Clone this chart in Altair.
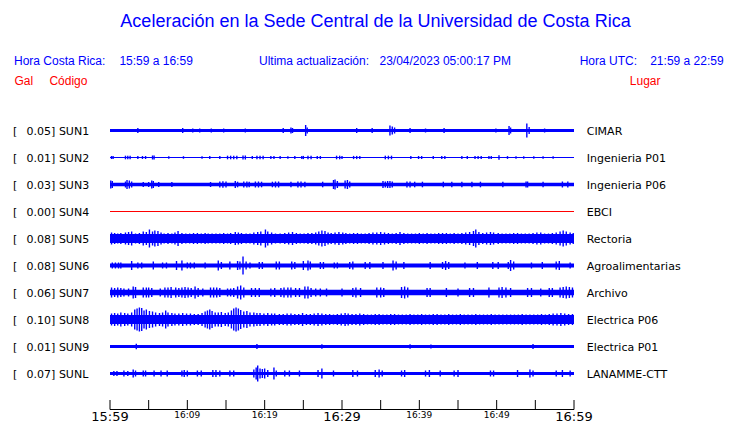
import altair as alt
import pandas as pd

# ---------------- data ----------------
TITLE = "Aceleración en la Sede Central de la Universidad de Costa Rica"
CODES = ["SUN1", "SUN2", "SUN3", "SUN4", "SUN5", "SUN6", "SUN7", "SUN8", "SUN9", "SUNL"]
GAL = ["0.05", "0.01", "0.03", "0.00", "0.08", "0.08", "0.06", "0.10", "0.01", "0.07"]
LUGARES = ["CIMAR", "Ingenieria P01", "Ingenieria P06", "EBCI", "Rectoria",
           "Agroalimentarias", "Archivo", "Electrica P06", "Electrica P01", "LANAMME-CTT"]
# half-width (px) of the continuous background band of each trace
BASE = [1.5, 0.5, 1.8, 0.5, 4.5, 2.0, 2.8, 4.5, 1.5, 1.5]
TRACE_COLORS = ["#0000ff", "#0000ff", "#0000ff", "#ff0000", "#0000ff",
                "#0000ff", "#0000ff", "#0000ff", "#0000ff", "#0000ff"]

# bursts: (minutes after 15:59, half amplitude in px)
SPIKES = {
    "SUN1": [(3.6, 2.5), (9.4, 2.5), (10.7, 2), (11.6, 2), (13.1, 2), (14.7, 2), (17.5, 2),
             (22.4, 2.5), (23.4, 3), (23.6, 2.5), (25.3, 5.5), (25.5, 3), (31.9, 2.5),
             (33.9, 2.5), (36.2, 5), (36.5, 4), (36.8, 3), (38.8, 2.5), (40.8, 2), (43.2, 2.5),
             (49.9, 2), (51.6, 4.5), (51.8, 3), (53.9, 7), (54.2, 3.5), (56.2, 2)],
    "SUN2": [(0.2, 1.5), (0.4, 1.5), (2.0, 1.8), (2.3, 1.8), (2.6, 1.8), (3.6, 1.5), (4.2, 1.5),
             (4.6, 1.5), (5.5, 2), (5.7, 2), (7.6, 1.3), (9.5, 1.3), (11.9, 1.3), (12.9, 1.5),
             (14.2, 1.5), (15.2, 1.8), (15.6, 1.8), (16.0, 1.8), (16.4, 1.8), (17.2, 2),
             (17.5, 2), (18.4, 1.5), (19.0, 1.8), (19.4, 1.8), (19.8, 1.8), (20.8, 1.5),
             (21.2, 1.5), (22.0, 1.5), (23.0, 1.3), (23.9, 1.5), (24.8, 1.6), (25.0, 1.6),
             (25.6, 1.8), (26.0, 1.8), (26.8, 1.5), (27.2, 1.5), (29.3, 1.8), (29.7, 1.8),
             (30.0, 1.5), (31.5, 1.6), (31.9, 1.6), (32.3, 1.6), (35.6, 1.8), (36.0, 1.8),
             (36.4, 1.8), (38.9, 1.5), (39.9, 1.5), (40.3, 1.5), (41.8, 1.4), (42.9, 1.5),
             (43.3, 1.5), (45.5, 1.4), (46.2, 1.4), (47.2, 1.5), (47.6, 1.5), (48.0, 1.5),
             (49.0, 1.5), (49.3, 1.5), (50.3, 2.2), (51.4, 1.4), (52.5, 1.3), (53.5, 1.3),
             (54.8, 1.3), (56.0, 1.2), (57.3, 1.2)],
    "SUN3": [(0.1, 4), (0.3, 3.5), (2.0, 3), (2.2, 4.5), (2.5, 4), (2.8, 3), (4.3, 2.5),
             (5.0, 2.5), (5.4, 4), (5.6, 3.5), (6.3, 2.5), (8.0, 2.5), (13.0, 2.5), (14.2, 3),
             (14.6, 3.2), (15.0, 3), (16.2, 3.5), (16.5, 2.8), (17.3, 3), (17.7, 3), (18.0, 2.8),
             (18.8, 3), (19.2, 3), (19.6, 2.8), (21.0, 2.8), (21.4, 3), (21.8, 3), (23.4, 2.8),
             (24.3, 3), (24.7, 3), (25.2, 2.8), (27.5, 2.8), (28.9, 4.5), (29.1, 5), (29.4, 3.5),
             (30.4, 4), (30.7, 4.5), (31.0, 3), (35.3, 3.5), (35.6, 3), (35.9, 3.5), (36.2, 3.5),
             (36.5, 3), (38.4, 3), (38.8, 3), (39.4, 2.8), (40.4, 2.8), (43.1, 2.8), (44.2, 2.8),
             (45.5, 2.8), (46.8, 2.8), (47.9, 2.8), (50.8, 2.8), (53.8, 3), (54.0, 3), (56.0, 2.8),
             (58.5, 3), (59.2, 3)],
    "SUN4": [],
    "SUN5": [(0.2, 6), (0.6, 5.5), (1.0, 5), (1.4, 5.5), (2.0, 6), (2.4, 6.5), (2.8, 7),
             (3.3, 5), (3.8, 5.5), (4.3, 7), (4.7, 6.5), (5.1, 9), (5.5, 7), (5.8, 8), (6.2, 7.5),
             (6.6, 6), (7.0, 5), (7.5, 5.5), (8.0, 5), (8.4, 6), (8.8, 7.5), (9.3, 5.5), (9.8, 5),
             (10.3, 5), (10.8, 5.5), (11.3, 5.5), (11.8, 5), (12.3, 5.5), (12.7, 5), (13.2, 5),
             (13.7, 5), (14.2, 5), (14.7, 5.5), (15.2, 5), (15.6, 5.5), (16.2, 6.5), (16.6, 6),
             (17.0, 5.5), (17.6, 5), (18.1, 5), (18.6, 6), (19.1, 6.5), (19.5, 7), (20.1, 9),
             (20.4, 7), (20.9, 6), (21.4, 5), (22.0, 5), (22.6, 5.5), (23.1, 6), (23.6, 6.5),
             (24.1, 5.5), (24.6, 5), (25.1, 5), (25.6, 5.5), (26.1, 5.5), (26.6, 6), (27.0, 7),
             (27.4, 8), (27.8, 7.5), (28.2, 6), (28.6, 5.5), (29.1, 6), (29.6, 6.5), (30.1, 6),
             (30.5, 5.5), (31.0, 5), (31.5, 5.5), (32.0, 5.5), (32.5, 5), (33.0, 5), (33.5, 5.5),
             (34.0, 6), (34.5, 6), (35.0, 6.5), (35.5, 6), (36.0, 5.5), (36.5, 5), (37.0, 5.5),
             (37.5, 6.5), (38.0, 5.5), (38.5, 5), (39.0, 5), (39.5, 5), (40.0, 5.5), (40.5, 5),
             (41.0, 5.5), (41.5, 5), (42.0, 5), (42.5, 5.5), (43.0, 5.5), (43.5, 5.5), (44.0, 5),
             (44.5, 5.5), (45.0, 5), (45.5, 5.5), (46.0, 6), (46.5, 6.5), (47.0, 7.5), (47.3, 9),
             (47.7, 6.5), (48.2, 5.5), (48.7, 6), (49.2, 6.5), (49.6, 6), (50.2, 5.5), (50.7, 5),
             (51.2, 5), (51.7, 5), (52.2, 5.5), (52.7, 5.5), (53.2, 5), (53.7, 5), (54.2, 5),
             (54.7, 5.5), (55.2, 6), (55.7, 6), (56.2, 5), (56.7, 5), (57.2, 5.5), (57.7, 6),
             (58.2, 7), (58.6, 8), (59.0, 7), (59.5, 6), (59.9, 5.5)],
    "SUN6": [(0.3, 3), (0.7, 3), (1.1, 3), (1.4, 3), (2.8, 4.5), (3.6, 3), (4.1, 3), (5.6, 4),
             (6.8, 3), (7.3, 3), (8.6, 4.5), (9.3, 5), (10.0, 3), (10.4, 3), (10.9, 3), (12.3, 3),
             (14.0, 5), (14.4, 3.5), (15.5, 4), (16.5, 4.5), (16.8, 4), (17.2, 9), (17.6, 4),
             (18.1, 3), (19.3, 3.5), (19.7, 3.5), (21.5, 4), (21.9, 4), (23.5, 4), (23.9, 3.5),
             (25.0, 4.5), (25.6, 5), (25.9, 4), (27.2, 3.5), (27.6, 3.5), (29.0, 3), (29.4, 3),
             (31.0, 3.5), (31.4, 4), (33.0, 3.5), (33.6, 3.5), (35.3, 3.5), (36.6, 5), (37.0, 4),
             (38.0, 3.5), (41.4, 3.5), (43.0, 3.5), (43.4, 4.5), (43.8, 3.5), (45.9, 3),
             (47.5, 3.5), (49.5, 3.5), (50.2, 3.5), (51.5, 3.5), (51.8, 5.5), (52.2, 4), (54.5, 3),
             (55.9, 3.5), (57.7, 4), (58.1, 4.5), (59.5, 3)],
    "SUN7": [(0.2, 5), (0.6, 4.5), (1.0, 5), (1.4, 4.5), (1.8, 4), (2.4, 4), (3.0, 6), (3.3, 5.5),
             (4.3, 5), (4.7, 5), (5.0, 5), (5.4, 4.5), (6.5, 4), (7.1, 5), (7.5, 5), (7.9, 5.5),
             (8.5, 5), (8.9, 4.5), (9.3, 5), (9.7, 5.5), (10.1, 5), (10.5, 4.5), (11.0, 6),
             (11.4, 4.5), (12.0, 4), (13.0, 5), (13.4, 5), (13.8, 5), (14.2, 4.5), (15.2, 4),
             (15.6, 4), (16.0, 4.5), (16.5, 6), (16.9, 7), (17.3, 5), (18.3, 4.5), (18.8, 4.5),
             (19.3, 4.5), (20.8, 4), (21.3, 4.5), (22.1, 4.5), (22.5, 5), (23.0, 5), (23.4, 5),
             (24.0, 4.5), (24.5, 4.5), (25.2, 6), (25.6, 6), (26.0, 4.5), (26.6, 4), (27.2, 4),
             (28.0, 4), (30.0, 4), (31.4, 4.5), (31.8, 5), (32.4, 4.5), (34.5, 5), (35.0, 5),
             (35.4, 4.5), (37.7, 5.5), (38.1, 6), (38.5, 5), (41.0, 4.5), (41.4, 4.5), (43.5, 4.5),
             (45.0, 4), (46.5, 4.5), (47.0, 4.5), (49.0, 5), (50.3, 5), (50.7, 5.5), (51.2, 5),
             (51.8, 4.5), (54.0, 4.5), (54.5, 4.5), (55.7, 4), (56.8, 4.5), (57.2, 4.5), (58.2, 5),
             (58.6, 5.5), (59.0, 6), (59.4, 5.5), (59.8, 5)],
    "SUN8": [(0.2, 6), (0.6, 6.5), (1.0, 6), (1.4, 7), (1.9, 6.5), (2.3, 6), (2.8, 7), (3.2, 10),
             (3.5, 11), (3.8, 12), (4.1, 11.5), (4.4, 9), (4.7, 10), (5.1, 8.5), (5.5, 8), (5.9, 7),
             (6.4, 6.5), (6.8, 7), (7.2, 9), (7.5, 7), (8.0, 6.5), (8.4, 6), (8.9, 6), (9.4, 6.5),
             (9.9, 6), (10.4, 6), (10.9, 5.5), (11.4, 5.5), (11.9, 6.5), (12.3, 8), (12.6, 9),
             (12.9, 10), (13.2, 8.5), (13.6, 7), (14.0, 7), (14.4, 7.5), (14.9, 6.5), (15.3, 7),
             (15.7, 9), (16.0, 11), (16.3, 12), (16.6, 11), (16.9, 9.5), (17.3, 8), (17.7, 8.5),
             (18.1, 7), (18.6, 7), (19.0, 6.5), (19.4, 6.5), (19.9, 6), (20.4, 6.5), (20.9, 6),
             (21.3, 6), (21.9, 5.5), (22.4, 5.5), (22.9, 6), (23.4, 6), (23.9, 5.5), (24.4, 5.5),
             (24.9, 6.5), (25.4, 5.5), (25.9, 5.5), (26.4, 6), (26.9, 6.5), (27.4, 6), (27.9, 5.5),
             (28.4, 5.5), (28.9, 5), (29.4, 5.5), (29.9, 6), (30.4, 6.5), (30.8, 6), (31.3, 5.5),
             (31.8, 5.5), (32.3, 6), (32.8, 5.5), (33.3, 5), (33.8, 5), (34.3, 5.5), (34.8, 5.5),
             (35.3, 5), (35.8, 5), (36.3, 5.5), (36.8, 5.5), (37.3, 5), (37.8, 5), (38.3, 5),
             (38.8, 5.5), (39.3, 5), (39.8, 5), (40.3, 5.5), (40.8, 5), (41.3, 5), (41.8, 5.5),
             (42.3, 5.5), (42.8, 5), (43.3, 5), (43.8, 5.5), (44.3, 5), (44.8, 5), (45.3, 5.5),
             (45.8, 5), (46.3, 5), (46.8, 5), (47.3, 5.5), (47.8, 5), (48.3, 5), (48.8, 5),
             (49.3, 5.5), (49.8, 5), (50.3, 5), (50.8, 5), (51.3, 5), (51.8, 5), (52.3, 5),
             (52.8, 5), (53.3, 5.5), (53.8, 5), (54.3, 5), (54.8, 5), (55.3, 5), (55.8, 5.5),
             (56.3, 5), (56.8, 5.5), (57.3, 6), (57.8, 6), (58.3, 6.5), (58.8, 6), (59.3, 5.5),
             (59.8, 5.5)],
    "SUN9": [(3.4, 2.8), (19.0, 2.5), (27.4, 2.2), (38.8, 2.2), (41.5, 2), (54.7, 2.5)],
    "SUNL": [(0.5, 2.5), (0.9, 2.5), (1.8, 3), (2.3, 2.5), (3.0, 4), (3.3, 3), (4.3, 3), (4.6, 3),
             (5.7, 3), (6.6, 3), (7.4, 3), (9.3, 3), (9.6, 3.5), (10.0, 3), (11.3, 3), (11.8, 3),
             (13.3, 3.5), (13.7, 3.5), (14.2, 3), (15.5, 3), (16.0, 3), (18.6, 4), (18.9, 6),
             (19.1, 8), (19.4, 5), (19.7, 4.5), (20.0, 5), (20.4, 3.5), (21.2, 6), (21.5, 3),
             (22.6, 3), (23.2, 3), (24.5, 3), (26.9, 3.5), (27.4, 5), (28.9, 3), (31.4, 3.5),
             (32.0, 3), (34.3, 3.5), (34.8, 4), (35.2, 3), (37.7, 3), (38.1, 3.5), (40.8, 3),
             (41.3, 3.5), (42.7, 3), (44.5, 3), (45.0, 3.5), (49.2, 3), (49.6, 3), (52.7, 3.5),
             (54.3, 4), (54.7, 3), (57.7, 3), (58.5, 3.5), (59.5, 3)],
}

TICK_MIN = list(range(0, 61, 5))
TICK_LABELS = ["15:59", "", "16:09", "", "16:19", "", "16:29", "", "16:39", "", "16:49", "", "16:59"]
BIG_LABELS = ["15:59", "16:29", "16:59"]

HDR_CR = "Hora Costa Rica:"
HDR_CR_T = "15:59 a 16:59"
HDR_UPD = "Ultima actualización:"
HDR_UPD_T = "23/04/2023 05:00:17 PM"
HDR_UTC = "Hora UTC:"
HDR_UTC_T = "21:59 a 22:59"

# ---------------- layout (pixels) ----------------
W, H = 464, 293
ROW0, STEP = 14.5, 27
BLUE, RED = "#0000ff", "#ff0000"

xs = alt.Scale(domain=[0, 60], nice=False, zero=False)
ys = alt.Scale(domain=[0, H], reverse=True, nice=False, zero=False)

rows = []
for i, c in enumerate(CODES):
    ctr = ROW0 + STEP * i
    rows.append(dict(code=c, gal=GAL[i], lugar=LUGARES[i], center=ctr,
                     lo=ctr - BASE[i], hi=ctr + BASE[i], color=TRACE_COLORS[i],
                     t0=0, t1=60, left=f"{GAL[i]}] {c}"))
df_st = pd.DataFrame(rows)

sp = []
for i, c in enumerate(CODES):
    ctr = ROW0 + STEP * i
    for t, a in SPIKES[c]:
        sp.append(dict(t=t, lo=ctr - a, hi=ctr + a))
df_sp = pd.DataFrame(sp)

df_ticks = pd.DataFrame(dict(m=TICK_MIN, label=TICK_LABELS))
df_big = df_ticks[df_ticks.label.isin(BIG_LABELS)]
df_small = df_ticks[(df_ticks.label != "") & (~df_ticks.label.isin(BIG_LABELS))]
df_axis = pd.DataFrame(dict(t0=[0], t1=[60]))


def X(f):
    return alt.X(f, type="quantitative", scale=xs, axis=None)


def Y(f):
    return alt.Y(f, type="quantitative", scale=ys, axis=None)


band = alt.Chart(df_st).mark_rect().encode(
    x=X("t0"), x2="t1", y=Y("lo"), y2="hi", color=alt.Color("color:N", scale=None))

spikes = alt.Chart(df_sp).mark_rule(strokeWidth=1.4, color=BLUE).encode(
    x=X("t"), y=Y("lo"), y2="hi")

txt_kw = dict(baseline="alphabetic", font="DejaVu Sans", fontSize=11, color="black", dy=4)
lab_br = alt.Chart(df_st).mark_text(text="[", align="left", **txt_kw).encode(
    x=alt.value(-97), y=Y("center"))
lab_left = alt.Chart(df_st).mark_text(align="left", **txt_kw).encode(
    text="left:N", x=alt.value(-83.4), y=Y("center"))
lab_right = alt.Chart(df_st).mark_text(align="left", **txt_kw).encode(
    text="lugar:N", x=alt.value(476.7), y=Y("center"))

axis_line = alt.Chart(df_axis).mark_rule(color="black", strokeWidth=1).encode(
    x=X("t0"), x2="t1", y=alt.value(293.5))
ticks = alt.Chart(df_ticks).mark_rule(color="black", strokeWidth=1).encode(
    x=X("m"), y=alt.value(284), y2=alt.value(293.5))
big_lbl = alt.Chart(df_big).mark_text(
    align="center", baseline="alphabetic", font="DejaVu Sans", fontSize=13, color="black").encode(
    x=X("m"), y=alt.value(304.5), text="label:N")
small_lbl = alt.Chart(df_small).mark_text(
    align="center", baseline="alphabetic", font="DejaVu Sans", fontSize=9,
    color="black").encode(x=X("m"), y=alt.value(302), text="label:N")


def label(s, x, y, color, size=12, align="left"):
    return alt.Chart(alt.Data(values=[{"s": s}])).mark_text(
        align=align, baseline="alphabetic", font="Liberation Sans", fontSize=size,
        color=color).encode(text="s:N", x=alt.value(x), y=alt.value(y))


headers = [
    label(TITLE, 265.5, -89, BLUE, size=18, align="center"),
    label(HDR_CR, -96, -51, BLUE),
    label(HDR_CR_T, 9.4, -51, BLUE),
    label(HDR_UPD, 149, -51, BLUE),
    label(HDR_UPD_T, 269.5, -51, BLUE),
    label(HDR_UTC, 469.7, -51, BLUE),
    label(HDR_UTC_T, 540.2, -51, BLUE),
    label("Gal", -95.6, -31, RED),
    label("Código", -60.6, -31, RED),
    label("Lugar", 519.8, -31, RED),
]

chart = alt.layer(
    band, spikes, lab_br, lab_left, lab_right, axis_line, ticks, big_lbl, small_lbl, *headers
).properties(
    width=W, height=H,
    autosize=alt.AutoSizeParams(type="none"),
    padding={"left": 102, "top": 108, "right": 151, "bottom": 14},
    background="white",
).configure_view(stroke=None)

chart.save("out.html", embed_options={"renderer": "svg", "actions": False})
